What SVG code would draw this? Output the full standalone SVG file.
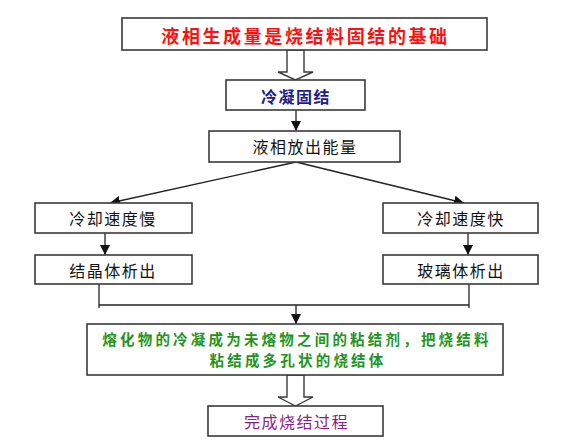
<svg xmlns="http://www.w3.org/2000/svg" width="567" height="441" viewBox="0 0 567 441">
<style>
.box{fill:#fff;stroke:#3a3a3a;stroke-width:1.6}
.t{font-family:"Noto Sans CJK SC","Noto Sans CJK TC",sans-serif;font-size:16px;letter-spacing:1.5px;text-anchor:middle;dominant-baseline:central;fill:#111}
.b{font-weight:bold}
.g{font-size:14.5px;letter-spacing:3.2px;fill:#1f9420}
.ln{fill:none;stroke:#222;stroke-width:1.3}
.hollow{fill:#fff;stroke:#3a3a3a;stroke-width:1.4}
</style>
<defs>
<marker id="ah" viewBox="0 0 10 10" refX="10" refY="5" markerWidth="10" markerHeight="10" markerUnits="userSpaceOnUse" orient="auto">
<path d="M0,0 L10,5 L0,10 z" fill="#111"/>
</marker>
</defs>
<g id="connectors">
<polygon class="hollow" points="287,50 304,50 304,72 313,72 295.5,80 278,72 287,72"/>
<line class="ln" x1="296" y1="110" x2="296" y2="131" marker-end="url(#ah)"/>
<line class="ln" x1="296" y1="162" x2="110" y2="203" marker-end="url(#ah)"/>
<line class="ln" x1="296" y1="162" x2="464" y2="203" marker-end="url(#ah)"/>
<line class="ln" x1="105" y1="233" x2="105" y2="255" marker-end="url(#ah)"/>
<line class="ln" x1="468" y1="233" x2="468" y2="255" marker-end="url(#ah)"/>
<polyline class="ln" points="99,284 99,308"/>
<polyline class="ln" points="469,284 469,308"/>
<line class="ln" x1="99" y1="305" x2="469" y2="305"/>
<line class="ln" x1="296" y1="305" x2="296" y2="324" marker-end="url(#ah)"/>
<polygon class="hollow" points="287,375 304,375 304,397 313,397 295.5,406 278,397 287,397"/>
</g>
<g id="n1"><rect class="box" x="122" y="18" width="365" height="32"/><text class="t b" x="305.5" y="35" style="font-size:18px;letter-spacing:2.6px;fill:#ff1010">液相生成量是烧结料固结的基础</text></g>
<g id="n2"><rect class="box" x="226" y="80" width="139" height="30"/><text class="t b" x="296" y="96" style="fill:#1c1c8a">冷凝固结</text></g>
<g id="n3"><rect class="box" x="209" y="131" width="191" height="31"/><text class="t" x="305" y="146">液相放出能量</text></g>
<g id="n4"><rect class="box" x="35" y="203" width="157" height="30"/><text class="t" x="113" y="218">冷却速度慢</text></g>
<g id="n5"><rect class="box" x="383" y="203" width="155" height="30"/><text class="t" x="461" y="218">冷却速度快</text></g>
<g id="n6"><rect class="box" x="35" y="255" width="157" height="29"/><text class="t" x="113" y="270">结晶体析出</text></g>
<g id="n7"><rect class="box" x="383" y="255" width="155" height="29"/><text class="t" x="461" y="270">玻璃体析出</text></g>
<g id="n8"><rect class="box" x="87" y="324" width="416" height="51"/>
<text class="t b g" x="297" y="338.5">熔化物的冷凝成为未熔物之间的粘结剂，把烧结料</text>
<text class="t b g" x="298" y="359">粘结成多孔状的烧结体</text></g>
<g id="n9"><rect class="box" x="208" y="406" width="175" height="30"/><text class="t" x="296.5" y="421" style="fill:#8c1c8c">完成烧结过程</text></g>
</svg>
